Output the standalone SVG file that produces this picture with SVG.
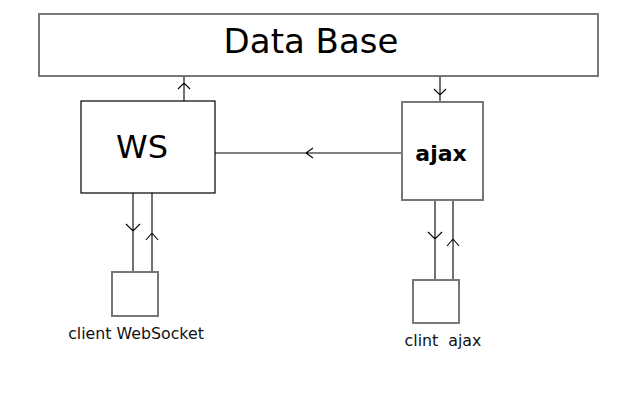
<svg xmlns="http://www.w3.org/2000/svg" width="640" height="400" viewBox="0 0 640 400">
<style>
.gray{fill:#fff;stroke:#777;stroke-width:2}
.blk{fill:#fff;stroke:#000;stroke-width:1.2}
.ln{stroke:#000;stroke-width:1.1;fill:none}
.t{font-family:"DejaVu Sans",sans-serif;fill:#000;text-anchor:middle}
.s{font-size:15.8px;fill:#111}
</style>
<rect width="640" height="400" fill="#fff"/>
<g id="connectors">
<path class="ln" d="M184,101 V76 M178,89 L184,83 L190,89"/>
<path class="ln" d="M440,76 V102 M434,89 L440,95 L446,89"/>
<path class="ln" d="M402,153 H215 M313,148 L306,153 L313,158"/>
<path class="ln" d="M133,193 V272 M126,224 L133,231 L140,224"/>
<path class="ln" d="M152,193 V272 M146,240 L152,233 L158,240"/>
<path class="ln" d="M435,200 V280 M428,232 L435,239 L442,232"/>
<path class="ln" d="M453,200 V280 M447,246 L453,239 L459,246"/>
</g>
<g id="database">
<rect class="gray" x="39" y="14" width="559" height="62"/>
<text class="t" x="311" y="53" font-size="34">Data Base</text>
</g>
<g id="ws">
<rect class="blk" x="81" y="101" width="134" height="92"/>
<text class="t" x="142" y="158" font-size="32">WS</text>
</g>
<g id="ajax">
<rect class="gray" x="402" y="102" width="81" height="98"/>
<text class="t" x="441" y="161" font-size="22" font-weight="600">ajax</text>
</g>
<g id="client-ws">
<rect class="gray" x="112" y="272" width="46" height="44"/>
<text class="t s" x="136" y="339">client WebSocket</text>
</g>
<g id="client-ajax">
<rect class="gray" x="413" y="280" width="46" height="43"/>
<text class="t s" x="443" y="346" style="white-space:pre">clint  ajax</text>
</g>
</svg>
